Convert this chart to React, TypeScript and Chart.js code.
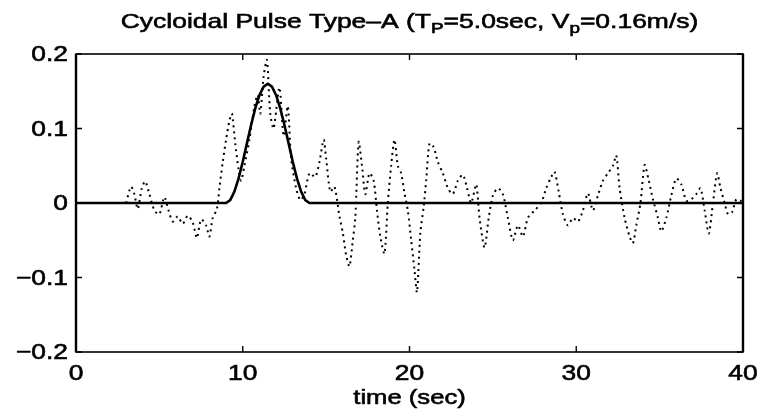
import React, { useEffect, useRef } from "react";
import { Chart, registerables } from "chart.js";

Chart.register(...registerables);

// ---- data ----
const recordTimes = [
  3.0, 3.3, 3.5, 3.7, 3.95, 4.15, 4.4, 4.7, 5.0, 5.3, 5.55, 5.8, 6.1, 6.4, 6.7, 7.0, 7.25, 7.5, 7.8,
  8.0, 8.2, 8.45, 8.6, 8.8, 9.0, 9.2, 9.35, 9.55, 9.75, 9.9, 10.1, 10.4, 10.7, 10.9, 11.05, 11.25, 11.45,
  11.65, 11.85, 12.2, 12.45, 12.7, 12.9, 13.2, 13.45, 13.7, 14.0, 14.35, 14.6, 14.85, 15.0, 15.25, 15.5,
  15.8, 16.0, 16.2, 16.4, 16.6, 16.75, 16.95, 17.15, 17.35, 17.6, 17.85, 18.05, 18.25, 18.5, 18.7, 18.9,
  19.1, 19.3, 19.5, 19.7, 19.9, 20.1, 20.3, 20.45, 20.65, 20.85, 21.0, 21.2, 21.45, 21.7, 22.0, 22.3, 22.6,
  22.9, 23.2, 23.45, 23.7, 24.0, 24.2, 24.5, 24.75, 25.0, 25.3, 25.6, 25.9, 26.2, 26.5, 26.8, 27.1, 27.5,
  27.9, 28.2, 28.5, 28.7, 28.95, 29.2, 29.5, 29.8, 30.1, 30.4, 30.7, 31.0, 31.3, 31.6, 31.9, 32.2, 32.4,
  32.6, 32.9, 33.2, 33.4, 33.6, 33.85, 34.1, 34.35, 34.6, 34.9, 35.1, 35.4, 35.7, 36.0, 36.3, 36.6, 36.9,
  37.2, 37.45, 37.7, 37.95, 38.2, 38.45, 38.65, 38.9, 39.1, 39.35, 39.6, 39.85, 40,
];
const recordValues = [
  0, 0.022, 0.012, -0.008, 0.02, 0.029, 0.012, -0.01, -0.015, 0.008, -0.01, -0.025, -0.018, -0.028, -0.017, -0.026, -0.047, -0.022, -0.03,
  -0.045, -0.02, -0.008, 0.02, 0.055, 0.085, 0.11, 0.12, 0.08, 0.045, 0.03, 0.05, 0.085, 0.13, 0.145, 0.12, 0.17, 0.192,
  0.12, 0.1, 0.155, 0.09, 0.13, 0.06, 0.02, 0.004, 0.012, 0.04, 0.035, 0.055, 0.085, 0.06, 0.015, 0.022,
  -0.018, -0.04, -0.07, -0.085, -0.05, -0.02, 0.082, 0.05, 0.012, 0.04, 0.03, -0.01, -0.045, -0.068, 0.0, 0.05,
  0.085, 0.05, 0.04, 0.013, -0.01, -0.05, -0.09, -0.12, -0.04, -0.005, 0.03, 0.08, 0.075, 0.055, 0.04, 0.02, 0.012,
  0.03, 0.038, 0.02, 0.0, 0.025, -0.02, -0.06, -0.02, 0.01, 0.02, 0.012, -0.02, -0.05, -0.03, -0.045, -0.02, -0.01,
  0.0, 0.02, 0.035, 0.042, 0.015, -0.015, -0.03, -0.02, -0.025, -0.01, 0.013, -0.01, 0.01, 0.03, 0.04, 0.05, 0.064,
  0.02, -0.02, -0.045, -0.054, -0.03, 0.0, 0.051, 0.03, 0.005, -0.02, -0.038, -0.02, 0.01, 0.033, 0.025, 0.003, 0.005,
  0.012, 0.02, -0.01, -0.041, 0.0, 0.04, 0.02, 0.0, -0.015, -0.012, 0.005, 0.003, 0.005,
];

const pulseTimes = [
  0, 9.0, 9.25, 9.5, 9.75, 10.0, 10.25, 10.5, 10.75, 11.0, 11.25, 11.5, 11.75, 12.0, 12.25, 12.5, 12.75,
  13.0, 13.25, 13.5, 13.75, 14.0, 40,
];
const pulseValues = [
  0, 0, 0.0039, 0.0153, 0.033, 0.0553, 0.08, 0.1047, 0.127, 0.1447, 0.1561, 0.16, 0.1561, 0.1447, 0.127,
  0.1047, 0.08, 0.0553, 0.033, 0.0153, 0.0039, 0, 0,
];

const xTicks = [0, 10, 20, 30, 40];
const xTickLabels = ["0", "10", "20", "30", "40"];
const yTicks = [0.2, 0.1, 0, -0.1, -0.2];
const yTickLabels = ["0.2", "0.1", "0", "\u22120.1", "\u22120.2"];

const titleParts = [
  { text: "Cycloidal Pulse Type\u2013A (T", sub: false },
  { text: "P", sub: true },
  { text: "=5.0sec, V", sub: false },
  { text: "p", sub: true },
  { text: "=0.16m/s)", sub: false },
];
const xLabel = "time (sec)";

const FONT = '"Liberation Sans", Arial, Helvetica, sans-serif';

function drawStretched(
  ctx: CanvasRenderingContext2D,
  text: string,
  x: number,
  y: number,
  align: "left" | "center" | "right",
  sx: number,
  font: string,
  baseline: CanvasTextBaseline = "alphabetic"
) {
  ctx.save();
  ctx.font = font;
  ctx.textBaseline = baseline;
  ctx.textAlign = "left";
  const w = ctx.measureText(text).width * sx;
  const x0 = align === "center" ? x - w / 2 : align === "right" ? x - w : x;
  ctx.translate(x0, y);
  ctx.scale(sx, 1);
  ctx.fillStyle = "#000";
  ctx.fillText(text, 0, 0);
  ctx.strokeStyle = "#000";
  ctx.lineWidth = 0.6;
  ctx.strokeText(text, 0, 0);
  ctx.restore();
}

const framePlugin = {
  id: "matlabFrame",
  afterDraw(chart: any) {
    const { ctx, chartArea: a, scales } = chart;
    const xs = scales.x;
    const ys = scales.y;
    ctx.save();
    ctx.strokeStyle = "#000";
    ctx.lineWidth = 1.6;
    ctx.strokeRect(a.left, a.top, a.right - a.left, a.bottom - a.top);
    ctx.lineWidth = 2.4;
    ctx.beginPath();
    ctx.moveTo(a.right, a.top);
    ctx.lineTo(a.right, a.bottom);
    ctx.moveTo(a.left, a.top);
    ctx.lineTo(a.left, a.bottom);
    ctx.stroke();
    ctx.lineWidth = 1.4;
    const tl = 6;
    ctx.beginPath();
    for (const v of xTicks) {
      const px = xs.getPixelForValue(v);
      ctx.moveTo(px, a.bottom);
      ctx.lineTo(px, a.bottom - tl);
      ctx.moveTo(px, a.top);
      ctx.lineTo(px, a.top + tl);
    }
    for (const v of yTicks) {
      const py = ys.getPixelForValue(v);
      ctx.moveTo(a.left, py);
      ctx.lineTo(a.left + tl, py);
      ctx.moveTo(a.right, py);
      ctx.lineTo(a.right - tl, py);
    }
    ctx.stroke();
    ctx.restore();

    const tickFont = `22px ${FONT}`;
    xTicks.forEach((v, i) => {
      drawStretched(ctx, xTickLabels[i], xs.getPixelForValue(v), a.bottom + 28, "center", 1.2, tickFont);
    });
    yTicks.forEach((v, i) => {
      drawStretched(ctx, yTickLabels[i], a.left - 8, ys.getPixelForValue(v) + 1, "right", 1.2, tickFont, "middle");
    });

    // x label
    drawStretched(ctx, xLabel, (a.left + a.right) / 2, a.bottom + 52, "center", 1.22, `21px ${FONT}`);

    // title with subscripts
    const sx = 1.26;
    const mainFont = `21px ${FONT}`;
    const subFont = `15px ${FONT}`;
    ctx.save();
    let total = 0;
    const widths = titleParts.map((p) => {
      ctx.font = p.sub ? subFont : mainFont;
      const w = ctx.measureText(p.text).width * sx;
      total += w;
      return w;
    });
    ctx.restore();
    let cx = (a.left + a.right) / 2 - total / 2;
    const baseY = 28;
    titleParts.forEach((p, i) => {
      drawStretched(ctx, p.text, cx, p.sub ? baseY + 5 : baseY, "left", sx, p.sub ? subFont : mainFont);
      cx += widths[i];
    });
  },
};

export default function App() {
  const canvasRef = useRef<HTMLCanvasElement | null>(null);

  useEffect(() => {
    if (!canvasRef.current) return;
    const recordData = recordTimes.map((t, i) => ({ x: t, y: recordValues[i] }));
    const pulseData = pulseTimes.map((t, i) => ({ x: t, y: pulseValues[i] }));
    const chart = new Chart(canvasRef.current, {
      type: "line",
      data: {
        datasets: [
          {
            label: "recorded",
            data: recordData,
            order: 2,
            borderColor: "#000",
            borderWidth: 2,
            borderDash: [2, 4],
            borderCapStyle: "butt",
            pointRadius: 0,
            tension: 0.25,
            fill: false,
          },
          {
            label: "cycloidal pulse",
            data: pulseData,
            order: 1,
            borderColor: "#000",
            borderWidth: 2.6,
            borderDash: [],
            pointRadius: 0,
            tension: 0,
            fill: false,
          },
        ],
      },
      options: {
        animation: false,
        responsive: true,
        maintainAspectRatio: false,
        layout: { padding: { left: 76, right: 24, top: 54, bottom: 64 } },
        plugins: { legend: { display: false }, tooltip: { enabled: false }, title: { display: false } },
        scales: {
          x: { type: "linear", min: 0, max: 40, display: false },
          y: { type: "linear", min: -0.2, max: 0.2, display: false },
        },
      },
      plugins: [framePlugin],
    });
    return () => chart.destroy();
  }, []);

  return (
    <div style={{ position: "fixed", left: 0, top: 0, width: 767, height: 416, background: "#fff" }}>
      <canvas ref={canvasRef} />
    </div>
  );
}
